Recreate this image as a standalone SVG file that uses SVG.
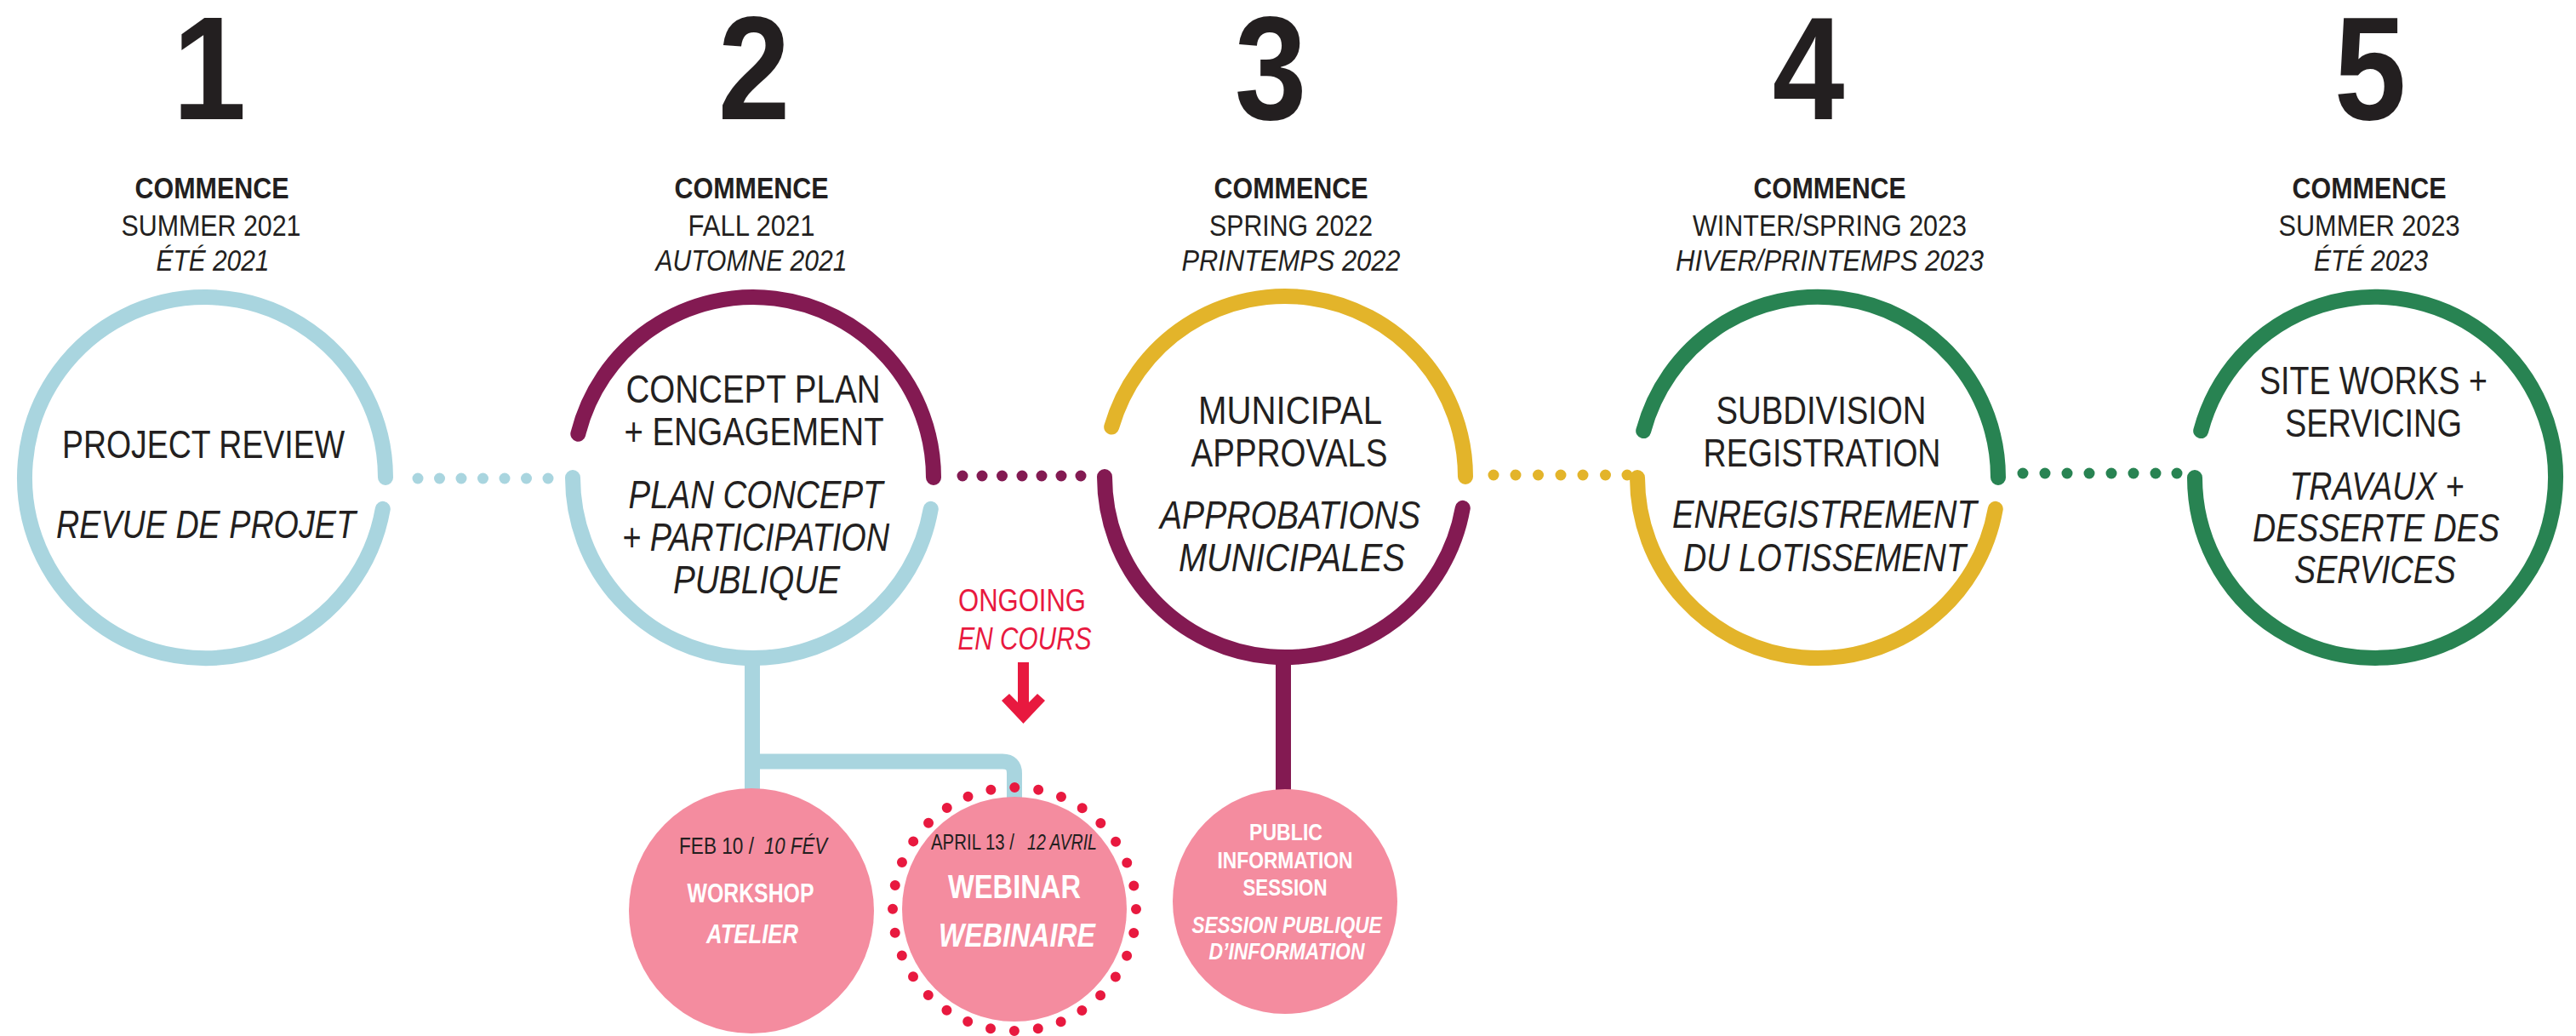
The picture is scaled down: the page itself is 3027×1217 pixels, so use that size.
<svg xmlns="http://www.w3.org/2000/svg" width="3027" height="1217" viewBox="0 0 3027 1217">
<style>
text{font-family:"Liberation Sans",Arial,sans-serif;fill:#231F20;text-anchor:middle}
.num{font-size:173px;font-weight:bold}
.hb{font-size:35px;font-weight:bold}
.h{font-size:35px}
.hi{font-size:35px;font-style:italic}
.t{font-size:46px}
.ti{font-size:46px;font-style:italic}
.red{fill:#E8193F}
.w{fill:#FFFFFF;font-weight:bold}
.it{font-style:italic}
.st{text-anchor:start}
.arc{fill:none;stroke-width:18;stroke-linecap:round}
.blue{stroke:#A9D5DF}
.purple{stroke:#831A52}
.yellow{stroke:#E3B42A}
.green{stroke:#288352}
.dotb{fill:#A9D5DF}
.dotp{fill:#831A52}
.doty{fill:#E3B42A}
.dotg{fill:#288352}
.bubble{fill:#F48C9F}
</style>

<g id="headers">
  <g id="header-1">
    <text class="num" transform="translate(246 140) scale(0.9 1)">1</text>
    <text class="hb" x="249" y="233" textLength="181" lengthAdjust="spacingAndGlyphs">COMMENCE</text>
    <text class="h" x="248" y="277" textLength="211" lengthAdjust="spacingAndGlyphs">SUMMER 2021</text>
    <text class="hi" x="250" y="318" textLength="133" lengthAdjust="spacingAndGlyphs">ÉTÉ 2021</text>
  </g>
  <g id="header-2">
    <text class="num" transform="translate(886 140) scale(0.88 1)">2</text>
    <text class="hb" x="883" y="233" textLength="181" lengthAdjust="spacingAndGlyphs">COMMENCE</text>
    <text class="h" x="883" y="277" textLength="149" lengthAdjust="spacingAndGlyphs">FALL 2021</text>
    <text class="hi" x="883" y="318" textLength="225" lengthAdjust="spacingAndGlyphs">AUTOMNE 2021</text>
  </g>
  <g id="header-3">
    <text class="num" transform="translate(1493 140) scale(0.88 1)">3</text>
    <text class="hb" x="1517" y="233" textLength="181" lengthAdjust="spacingAndGlyphs">COMMENCE</text>
    <text class="h" x="1517" y="277" textLength="192" lengthAdjust="spacingAndGlyphs">SPRING 2022</text>
    <text class="hi" x="1517" y="318" textLength="257" lengthAdjust="spacingAndGlyphs">PRINTEMPS 2022</text>
  </g>
  <g id="header-4">
    <text class="num" transform="translate(2125 140) scale(0.88 1)">4</text>
    <text class="hb" x="2150" y="233" textLength="179" lengthAdjust="spacingAndGlyphs">COMMENCE</text>
    <text class="h" x="2150" y="277" textLength="322" lengthAdjust="spacingAndGlyphs">WINTER/SPRING 2023</text>
    <text class="hi" x="2150" y="318" textLength="362" lengthAdjust="spacingAndGlyphs">HIVER/PRINTEMPS 2023</text>
  </g>
  <g id="header-5">
    <text class="num" transform="translate(2785 140) scale(0.88 1)">5</text>
    <text class="hb" x="2784" y="233" textLength="181" lengthAdjust="spacingAndGlyphs">COMMENCE</text>
    <text class="h" x="2784" y="277" textLength="213" lengthAdjust="spacingAndGlyphs">SUMMER 2023</text>
    <text class="hi" x="2786" y="318" textLength="134" lengthAdjust="spacingAndGlyphs">ÉTÉ 2023</text>
  </g>
</g>

<g id="connectors">
  <g id="dots-1-2" class="dotb">
    <circle cx="491" cy="562" r="6.5"/><circle cx="516.5" cy="562" r="6.5"/><circle cx="542" cy="562" r="6.5"/><circle cx="567.5" cy="562" r="6.5"/><circle cx="593" cy="562" r="6.5"/><circle cx="618.5" cy="562" r="6.5"/><circle cx="644" cy="562" r="6.5"/>
  </g>
  <g id="dots-2-3" class="dotp">
    <circle cx="1131" cy="559" r="6.5"/><circle cx="1154" cy="559" r="6.5"/><circle cx="1177.5" cy="559" r="6.5"/><circle cx="1201" cy="559" r="6.5"/><circle cx="1224" cy="559" r="6.5"/><circle cx="1247" cy="559" r="6.5"/><circle cx="1270" cy="559" r="6.5"/>
  </g>
  <g id="dots-3-4" class="doty">
    <circle cx="1755" cy="558" r="6.5"/><circle cx="1781" cy="558" r="6.5"/><circle cx="1807.5" cy="558" r="6.5"/><circle cx="1834" cy="558" r="6.5"/><circle cx="1860" cy="558" r="6.5"/><circle cx="1886.5" cy="558" r="6.5"/><circle cx="1912" cy="558" r="6.5"/>
  </g>
  <g id="dots-4-5" class="dotg">
    <circle cx="2377" cy="556" r="6.5"/><circle cx="2403" cy="556" r="6.5"/><circle cx="2429" cy="556" r="6.5"/><circle cx="2455" cy="556" r="6.5"/><circle cx="2481" cy="556" r="6.5"/><circle cx="2507" cy="556" r="6.5"/><circle cx="2533" cy="556" r="6.5"/><circle cx="2558" cy="556" r="6.5"/>
  </g>
  <path id="stem-2" class="arc blue" style="stroke-linecap:butt;stroke-linejoin:round" d="M884 770 V932 M884 894.5 H1178 Q1192 894.5 1192 908.5 V942"/>
  <path id="stem-3" class="arc purple" style="stroke-linecap:butt" d="M1508 770 V932"/>
  <polygon id="ongoing-arrow" class="red" points="1196,778 1209,778 1209,825 1219,815 1228,823 1202.5,850 1177,823 1186,815 1196,825"/>
</g>

<g id="node-1">
  <path class="arc blue" d="M453 561 A212 212 0 1 0 449.8 597.8"/>
  <text class="t" x="239" y="538" textLength="332" lengthAdjust="spacingAndGlyphs">PROJECT REVIEW</text>
  <text class="ti" x="242" y="632" textLength="352" lengthAdjust="spacingAndGlyphs">REVUE DE PROJET</text>
</g>

<g id="node-2">
  <path class="arc purple" d="M679.3 509.7 A212 212 0 0 1 1097 561"/>
  <path class="arc blue" d="M673 561 A212 212 0 0 0 1093.8 597.8"/>
  <text class="t" x="885" y="473" textLength="299" lengthAdjust="spacingAndGlyphs">CONCEPT PLAN</text>
  <text class="t" x="886" y="523" textLength="305" lengthAdjust="spacingAndGlyphs">+ ENGAGEMENT</text>
  <text class="ti" x="888" y="597" textLength="299" lengthAdjust="spacingAndGlyphs">PLAN CONCEPT</text>
  <text class="ti" x="888" y="647" textLength="314" lengthAdjust="spacingAndGlyphs">+ PARTICIPATION</text>
  <text class="ti" x="889" y="697" textLength="196" lengthAdjust="spacingAndGlyphs">PUBLIQUE</text>
</g>

<g id="ongoing-label">
  <text class="red" x="1201" y="718" style="font-size:36px" textLength="150" lengthAdjust="spacingAndGlyphs">ONGOING</text>
  <text class="red it" x="1204" y="763" style="font-size:36px" textLength="157" lengthAdjust="spacingAndGlyphs">EN COURS</text>
</g>

<g id="node-3">
  <path class="arc yellow" d="M1306.2 501.6 A212 212 0 0 1 1722 560"/>
  <path class="arc purple" d="M1298 560 A212 212 0 0 0 1718.8 596.8"/>
  <text class="t" x="1516" y="498" textLength="216" lengthAdjust="spacingAndGlyphs">MUNICIPAL</text>
  <text class="t" x="1515" y="548" textLength="231" lengthAdjust="spacingAndGlyphs">APPROVALS</text>
  <text class="ti" x="1516" y="621" textLength="306" lengthAdjust="spacingAndGlyphs">APPROBATIONS</text>
  <text class="ti" x="1518" y="671" textLength="266" lengthAdjust="spacingAndGlyphs">MUNICIPALES</text>
</g>

<g id="node-4">
  <path class="arc green" d="M1931.2 506.1 A212 212 0 0 1 2348 561"/>
  <path class="arc yellow" d="M1924 561 A212 212 0 0 0 2344.8 597.8"/>
  <text class="t" x="2140" y="498" textLength="247" lengthAdjust="spacingAndGlyphs">SUBDIVISION</text>
  <text class="t" x="2141" y="548" textLength="279" lengthAdjust="spacingAndGlyphs">REGISTRATION</text>
  <text class="ti" x="2144" y="620" textLength="358" lengthAdjust="spacingAndGlyphs">ENREGISTREMENT</text>
  <text class="ti" x="2144" y="671" textLength="332" lengthAdjust="spacingAndGlyphs">DU LOTISSEMENT</text>
</g>

<g id="node-5">
  <path class="arc green" d="M2586.2 506.1 A212 212 0 1 1 2579 561"/>
  <text class="t" x="2789" y="463" textLength="268" lengthAdjust="spacingAndGlyphs">SITE WORKS +</text>
  <text class="t" x="2789" y="513" textLength="208" lengthAdjust="spacingAndGlyphs">SERVICING</text>
  <text class="ti" x="2793" y="587" textLength="205" lengthAdjust="spacingAndGlyphs">TRAVAUX +</text>
  <text class="ti" x="2792" y="636" textLength="290" lengthAdjust="spacingAndGlyphs">DESSERTE DES</text>
  <text class="ti" x="2791" y="685" textLength="190" lengthAdjust="spacingAndGlyphs">SERVICES</text>
</g>

<g id="bubble-workshop">
  <circle class="bubble" cx="883" cy="1070" r="144"/>
  <text class="st" x="798" y="1003" style="font-size:28px" textLength="88" lengthAdjust="spacingAndGlyphs">FEB 10 /</text>
  <text class="st it" x="898" y="1003" style="font-size:28px" textLength="74" lengthAdjust="spacingAndGlyphs">10 FÉV</text>
  <text class="w" x="882" y="1060" style="font-size:31px" textLength="149" lengthAdjust="spacingAndGlyphs">WORKSHOP</text>
  <text class="w it" x="884" y="1108" style="font-size:31px" textLength="108" lengthAdjust="spacingAndGlyphs">ATELIER</text>
</g>

<g id="bubble-webinar">
  <circle cx="1192" cy="1068" r="143" fill="none" stroke="#E8193F" stroke-width="12" stroke-linecap="round" stroke-dasharray="0 28.078"/>
  <circle class="bubble" cx="1192" cy="1068" r="132"/>
  <text class="st" x="1094" y="998" style="font-size:26px" textLength="98" lengthAdjust="spacingAndGlyphs">APRIL 13 /</text>
  <text class="st it" x="1207" y="998" style="font-size:26px" textLength="82" lengthAdjust="spacingAndGlyphs">12 AVRIL</text>
  <text class="w" x="1192" y="1055" style="font-size:38px" textLength="156" lengthAdjust="spacingAndGlyphs">WEBINAR</text>
  <text class="w it" x="1195" y="1112" style="font-size:38px" textLength="184" lengthAdjust="spacingAndGlyphs">WEBINAIRE</text>
</g>

<g id="bubble-info">
  <circle class="bubble" cx="1510" cy="1059" r="132"/>
  <text class="w" x="1511" y="987" style="font-size:27px" textLength="86" lengthAdjust="spacingAndGlyphs">PUBLIC</text>
  <text class="w" x="1510" y="1020" style="font-size:27px" textLength="159" lengthAdjust="spacingAndGlyphs">INFORMATION</text>
  <text class="w" x="1510" y="1052" style="font-size:27px" textLength="99" lengthAdjust="spacingAndGlyphs">SESSION</text>
  <text class="w it" x="1512" y="1096" style="font-size:27px" textLength="223" lengthAdjust="spacingAndGlyphs">SESSION PUBLIQUE</text>
  <text class="w it" x="1512" y="1127" style="font-size:27px" textLength="183" lengthAdjust="spacingAndGlyphs">D’INFORMATION</text>
</g>
</svg>
